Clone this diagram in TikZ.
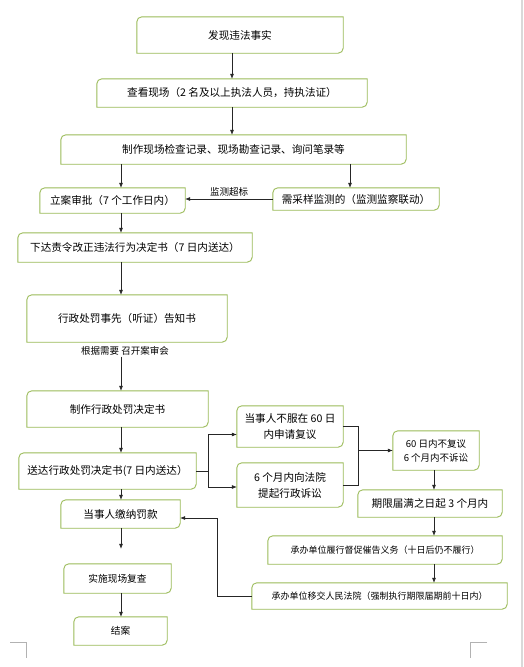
\documentclass[tikz,border=0pt]{standalone}
\usepackage{fontspec}
\setmainfont{Noto Sans CJK SC}
\usetikzlibrary{arrows.meta,calc}
\definecolor{boxgreen}{RGB}{155,187,89}
\tikzset{
  box/.style={inner sep=1pt, align=center, font=\fontsize{10.6}{16}\selectfont},
  note/.style={inner sep=1pt, font=\fontsize{9.5}{10}\selectfont},
  flow/.style={draw=black!85, line width=0.6pt, -{Latex[length=5pt,width=4pt]}},
  link/.style={draw=black!85, line width=0.6pt}
}
\begin{document}
\begin{tikzpicture}[x=1pt,y=-1pt]
\useasboundingbox (0,0) rectangle (523,667);
\fill[white] (0,0) rectangle (523,667);
\draw[black!15, line width=1.2pt] (522,0) -- (522,667);
\draw[black!30, line width=0.5pt] (10,642) -- (26,642) -- (26,658) (487,642) -- (470,642) -- (470,658);
\path
(121,0) coordinate (axis)
;
\node[box, minimum width=206pt, minimum height=36pt] (fact) at (240,35) {发现违法事实};
\node[box, minimum width=270pt, minimum height=28pt] (look) at (232,93) {查看现场（2 名及以上执法人员，持执法证）};
\node[box, minimum width=345pt, minimum height=29pt] (record) at (233.5,149.5) {制作现场检查记录、现场勘查记录、询问笔录等};
\node[box, minimum width=145pt, minimum height=25pt] (file) at (112.5,200.5) {立案审批（7 个工作日内）};
\node[box, minimum width=166pt, minimum height=22pt] (sample) at (356,199) {需采样监测的（监测监察联动）};
\node[box, minimum width=234pt, minimum height=29pt] (order) at (135,247.5) {下达责令改正违法行为决定书（7 日内送达）};
\node[box, minimum width=200pt, minimum height=47pt] (notice) at (127,318.5) {行政处罚事先（听证）告知书};
\node[note] (need) at (125,351) {根据需要 召开案审会};
\node[box, minimum width=181pt, minimum height=36pt] (decide) at (117.5,409) {制作行政处罚决定书};
\node[box, minimum width=177pt, minimum height=36pt] (deliver) at (107.5,471) {送达行政处罚决定书(7 日内送达）};
\node[box, minimum width=106pt, minimum height=41pt] (review) at (290,426.5) {当事人不服在 60 日\\内申请复议};
\node[box, minimum width=106pt, minimum height=44pt] (sue) at (290,485) {6 个月内向法院\\提起行政诉讼};
\node[box, minimum width=86pt, minimum height=39pt, font=\fontsize{9.5}{14}\selectfont] (none) at (436,450.5) {60 日内不复议\\6 个月内不诉讼};
\node[box, minimum width=144pt, minimum height=27pt] (expire) at (430,503.5) {期限届满之日起 3 个月内};
\node[box, minimum width=119pt, minimum height=28pt] (pay) at (120.5,514) {当事人缴纳罚款};
\node[box, minimum width=234pt, minimum height=28pt, font=\fontsize{9}{11}\selectfont] (urge) at (385,550) {承办单位履行督促催告义务（十日后仍不履行）};
\node[box, minimum width=255pt, minimum height=26pt, font=\fontsize{9}{11}\selectfont] (court) at (379.5,596) {承办单位移交人民法院（强制执行期限届期前十日内）};
\node[box, minimum width=107pt, minimum height=29pt, font=\fontsize{9.7}{11}\selectfont] (recheck) at (117.5,578.5) {实施现场复查};
\node[box, minimum width=93pt, minimum height=28pt, font=\fontsize{9.7}{11}\selectfont] (close) at (120.5,631) {结案};
\foreach \n in {fact,look,record,file,sample,order,notice,decide,deliver,review,sue,none,expire,pay,urge,court,recheck,close}
  \draw[boxgreen, line width=0.9pt] ([yshift=-5pt]\n.north west) arc[start angle=180,end angle=90,radius=5pt] -- (\n.north east) -- ([yshift=5pt]\n.south east) arc[start angle=0,end angle=-90,radius=5pt] -- (\n.south west) -- cycle;
\draw[flow] (fact.south -| look) -- (look.north);
\draw[flow] (look.south) -- (look.south |- record.north);
\draw[flow] (record.south -| axis) -- (file.north -| axis);
\draw[flow] ([xshift=-6pt]record.south -| sample) -- ([xshift=-6pt]sample.north);
\draw[flow] (sample.west) -- (sample.west -| file.east) node[note, midway, above=1pt] {监测超标};
\draw[flow] (file.south -| axis) -- (order.north -| axis);
\draw[flow] (order.south -| axis) -- (notice.north -| axis);
\draw[flow] (need.south -| axis) -- (decide.north -| axis);
\draw[flow] (decide.south -| axis) -- (deliver.north -| axis);
\draw[link] (deliver.east) -- ++(12,0) coordinate (fork);
\draw[flow] (fork) |- ([yshift=-8pt]review.west);
\draw[flow] (fork) |- ([yshift=-2pt]sue.west);
\draw[link] (review.east) -- ++(15,0) coordinate (join) |- (sue.east);
\draw[flow] (join |- none.west) -- (none.west);
\draw[flow] ([xshift=-2pt]none.south) -- ([xshift=-2pt]none.south |- expire.north);
\draw[flow] ([xshift=-2pt]expire.south -| none) -- ([xshift=-2pt]urge.north -| none);
\draw[flow] ([xshift=-2pt]urge.south -| none) -- ([xshift=-2pt]court.north -| none);
\draw[link] (court.west) -- ++(-35,0) coordinate (back);
\draw[flow] (back) |- ([yshift=-4pt]pay.east);
\draw[flow] (deliver.south -| axis) -- (pay.north -| axis);
\draw[flow, shorten >=15pt] (pay.south -| axis) -- (recheck.north -| axis);
\draw[flow] (recheck.south -| axis) -- (close.north -| axis);
\end{tikzpicture}
\end{document}
